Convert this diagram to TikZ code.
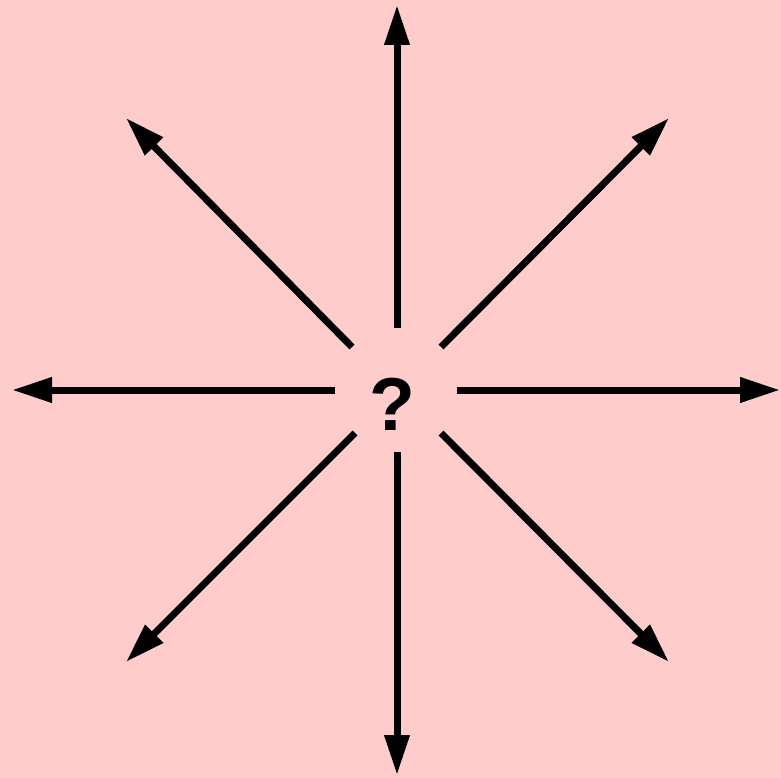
\documentclass[tikz,border=0pt]{standalone}
\usepackage{fontspec}
\setmainfont{Liberation Sans}
\usetikzlibrary{arrows.meta}
\begin{document}
\begin{tikzpicture}[x=1pt,y=-1pt,
  ray/.style={line width=7pt,-{Triangle[length=40pt,width=24pt]}}]
\fill[fill={rgb,255:red,255;green,204;blue,204}] (0,0) rectangle (781,778);
\useasboundingbox (0,0) rectangle (781,778);
\node[font=\bfseries\fontsize{75}{75}\selectfont,inner sep=0pt] (q) at (392.5,404.5) {?};
\coordinate (s1) at (397,328); \coordinate (e1) at (397,5);
\coordinate (s2) at (397,452); \coordinate (e2) at (397,775);
\coordinate (s3) at (335,390); \coordinate (e3) at (12,390);
\coordinate (s4) at (457,390); \coordinate (e4) at (780,390);
\coordinate (s5) at (352,347); \coordinate (e5) at (126,118);
\coordinate (s6) at (441,347); \coordinate (e6) at (669,118);
\coordinate (s7) at (355,433); \coordinate (e7) at (126,662);
\coordinate (s8) at (441,433); \coordinate (e8) at (669,662);
\foreach \i in {1,...,8} {\draw[ray] (s\i) -- (e\i);}
\end{tikzpicture}
\end{document}
